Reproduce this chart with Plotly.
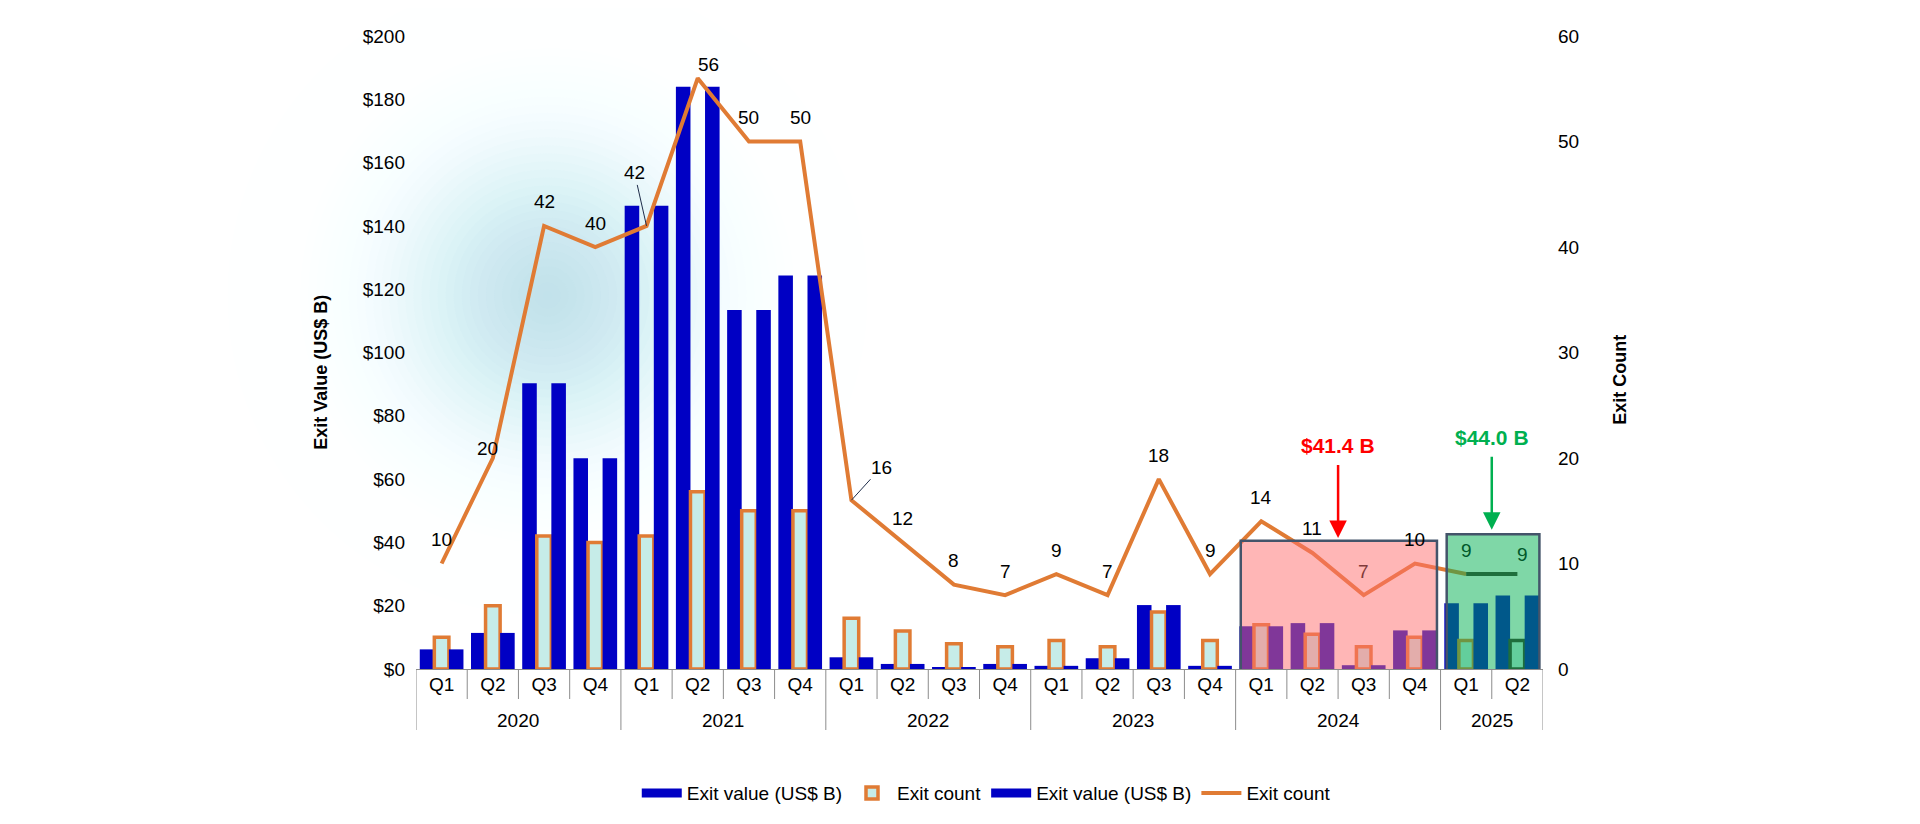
import numpy as np
import plotly.graph_objects as go

# ---- data ----
years = ["2020"] * 4 + ["2021"] * 4 + ["2022"] * 4 + ["2023"] * 4 + ["2024"] * 4 + ["2025"] * 2
quarters = ["Q1", "Q2", "Q3", "Q4"] * 5 + ["Q1", "Q2"]
exit_value = [6.2, 11.4, 90.3, 66.6, 146.4, 184.0, 113.4, 124.3, 3.7, 1.6, 0.6, 1.6,
              1.0, 3.4, 20.2, 1.0, 13.5, 14.5, 1.2, 12.2, 20.8, 23.2]
exit_count = [10, 20, 42, 40, 42, 56, 50, 50, 16, 12, 8, 7, 9, 7, 18, 9, 14, 11, 7, 10, 9, 9]
highlight_years = ["2024", "2025"]
highlight_totals = [41.4, 44.0]

BLUE = "#0000C4"
ORANGE = "#E07B34"
CYAN = "#C6ECE8"
DARK = "#3C2D28"
GRAY = "#8C8C8C"
FONT = "Liberation Sans, Arial, sans-serif"

x_keys = [f"{y} {q}" for y, q in zip(years, quarters)]
n = len(x_keys)
outline = [ORANGE] * (n - 1) + [DARK]

fig = go.Figure()
fig.add_trace(go.Bar(x=x_keys, y=exit_value, name="Exit value (US$ B)", showlegend=False,
                     marker=dict(color=BLUE, line=dict(width=0))))
fig.add_trace(go.Bar(x=x_keys, y=exit_count, name="Exit count", legendrank=2,
                     marker=dict(color=CYAN, line=dict(color=outline, width=3.5))))
fig.add_trace(go.Bar(x=x_keys, y=exit_value, name="Exit value (US$ B)", showlegend=False,
                     marker=dict(color=BLUE, line=dict(width=0))))
fig.add_trace(go.Scatter(x=x_keys[:-1], y=exit_count[:-1], yaxis="y2", mode="lines",
                         name="Exit count", legendrank=4,
                         line=dict(color=ORANGE, width=4)))
fig.add_trace(go.Scatter(x=x_keys[-2:], y=exit_count[-2:], yaxis="y2", mode="lines",
                         showlegend=False, hoverinfo="skip",
                         line=dict(color=DARK, width=4)))
# legend swatches for the two value series (wide blue blocks like the original)
for rank in (1, 3):
    fig.add_trace(go.Scatter(x=[None], y=[None], mode="lines", name="Exit value (US$ B)",
                             legendrank=rank, line=dict(color=BLUE, width=9)))

# ---- data labels on the line ----
offsets = {1: (-5, -10), 5: (11, -14), 21: (5, -20)}
leaders = {4: (-12, -53), 8: (30, -33)}
label_colors = {18: "#7F3A3A", 20: "#00582A", 21: "#00582A"}
annotations = []
for i, c in enumerate(exit_count):
    col = label_colors.get(i, "black")
    if i in leaders:
        ax_, ay_ = leaders[i]
        annotations.append(dict(x=i, y=c, xref="x", yref="y2", text=str(c), showarrow=True,
                                ax=ax_, ay=ay_, arrowhead=0, arrowwidth=1, arrowcolor="#1F2D4A",
                                font=dict(size=19, color=col, family=FONT)))
    else:
        dx, dy = offsets.get(i, (0, -24))
        annotations.append(dict(x=i, y=c, xref="x", yref="y2", text=str(c), showarrow=False,
                                xshift=dx, yshift=-dy, xanchor="center", yanchor="middle",
                                font=dict(size=19, color=col, family=FONT)))

# ---- year labels under the quarter labels, and axis separators ----
shapes = []
year_names = list(dict.fromkeys(years))
for yr in year_names:
    idx = [i for i, y in enumerate(years) if y == yr]
    annotations.append(dict(x=float(np.mean(idx)), y=0, xref="x", yref="paper", text=yr,
                            showarrow=False, yshift=-51, yanchor="middle",
                            font=dict(size=19, color="black", family=FONT)))
for b in range(n + 1):
    long_tick = b == 0 or b == n or years[b] != years[b - 1]
    depth = 61 if long_tick else 30
    shapes.append(dict(type="line", xref="x", yref="paper", x0=b - 0.5, x1=b - 0.5,
                       y0=0, y1=-depth / 633, line=dict(color=GRAY, width=1)))

# ---- highlight call-outs ----
callout_x = [17.5, 20.5]
callout_colors = ["#FF0000", "#00B050"]
for yr, tot, cx, cc in zip(highlight_years, highlight_totals, callout_x, callout_colors):
    annotations.append(dict(x=cx, y=tot, xref="x", yref="y", text=f"<b>${tot:.1f} B</b>",
                            showarrow=True, ax=0, ay=-92, arrowhead=2, arrowsize=1.4,
                            arrowwidth=2.5, arrowcolor=cc, startstandoff=6,
                            font=dict(size=21, color=cc, family=FONT)))

# axis titles
annotations.append(dict(x=0, y=0.468, xref="paper", yref="paper", xshift=-95, textangle=-90,
                        xanchor="center", yanchor="middle",
                        text="<b>Exit Value (US$ B)</b>", showarrow=False,
                        font=dict(size=18, color="black", family=FONT)))
annotations.append(dict(x=1, y=0.457, xref="paper", yref="paper", xshift=77, textangle=-90,
                        xanchor="center", yanchor="middle",
                        text="<b>Exit Count</b>", showarrow=False,
                        font=dict(size=18, color="black", family=FONT)))

# ---- soft background glow ----
radii = np.linspace(320, 5, 40)
target = 0.6 * np.exp(-(radii / 150.0) ** 2)
prev = 0.0
for r, t in zip(radii, target):
    a = 1 - (1 - t) / (1 - prev)
    prev = t
    shapes.append(dict(type="circle", xref="paper", yref="paper", xsizemode="pixel",
                       ysizemode="pixel", xanchor=0.1167, yanchor=0.59,
                       x0=-r, x1=r, y0=-r, y1=r, layer="below", line=dict(width=0),
                       fillcolor=f"rgba(160,218,232,{max(a, 0):.4f})"))

# ---- highlight boxes ----
shapes.append(dict(type="rect", xref="x", yref="y", x0=15.6, x1=19.43, y0=-0.7, y1=40.5,
                   fillcolor="rgba(255,110,110,0.5)", line=dict(color="#44546A", width=2.5),
                   layer="above"))
shapes.append(dict(type="rect", xref="x", yref="y", x0=19.62, x1=21.43, y0=-0.9, y1=42.6,
                   fillcolor="rgba(0,176,80,0.5)", line=dict(color="#44546A", width=2.5),
                   layer="above"))

fig.update_layout(
    width=1920, height=824,
    margin=dict(l=408, r=385, t=28, b=163),
    paper_bgcolor="white", plot_bgcolor="white",
    barmode="group", bargap=0.147, bargroupgap=0,
    font=dict(family=FONT, size=19, color="black"),
    showlegend=True,
    legend=dict(orientation="h", x=0.506, xanchor="center", y=-0.196, yanchor="middle",
                font=dict(size=19), bgcolor="rgba(0,0,0,0)", itemwidth=40),
    xaxis=dict(type="category", categoryorder="array", categoryarray=x_keys,
               tickvals=x_keys, ticktext=quarters, range=[-0.5, n - 0.5],
               showline=True, linecolor=GRAY, linewidth=1, ticks="", showgrid=False,
               ticklabelstandoff=-2, tickfont=dict(size=19)),
    yaxis=dict(range=[0, 200], dtick=20, tickprefix="$", showgrid=False, zeroline=False,
               showline=False, ticklabelstandoff=10, tickfont=dict(size=19)),
    yaxis2=dict(range=[0, 60], dtick=10, overlaying="y", side="right", showgrid=False,
                zeroline=False, showline=False, ticklabelstandoff=14, tickfont=dict(size=19)),
    annotations=annotations,
    shapes=shapes,
)

fig.write_html("out.html")
